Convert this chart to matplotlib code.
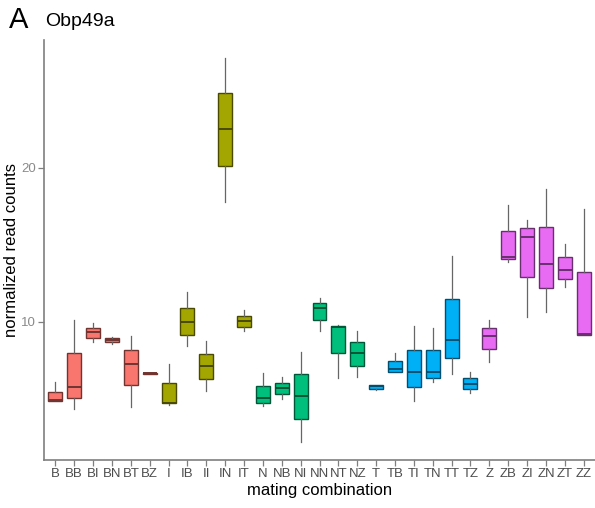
import numpy as np
import matplotlib
matplotlib.use("Agg")
import matplotlib.pyplot as plt
import matplotlib.colors as mcolors

plt.rcParams['font.family'] = ['Liberation Sans', 'DejaVu Sans']

# mating combinations, in axis order
combos = ['B', 'BB', 'BI', 'BN', 'BT', 'BZ', 'I', 'IB', 'II', 'IN', 'IT',
          'N', 'NB', 'NI', 'NN', 'NT', 'NZ', 'T', 'TB', 'TI', 'TN', 'TT', 'TZ',
          'Z', 'ZB', 'ZI', 'ZN', 'ZT', 'ZZ']
# female group of each combination (sets the fill colour)
groups = [c[0] for c in combos]

# box statistics
whislo = [4.85, 4.35, 8.72, 8.57, 4.48, 6.62, 4.61, 8.44, 5.52, 17.81, 9.42,
          4.55, 4.98, 2.23, 9.42, 6.34, 6.41, 5.58, 6.73, 4.87, 6.08, 6.62, 5.37,
          7.42, 13.92, 10.34, 10.67, 12.29, 9.16]
q1 = [4.89, 5.05, 8.98, 8.68, 5.89, 6.64, 4.72, 9.18, 6.32, 20.15, 9.69,
      4.76, 5.31, 3.68, 10.15, 8.01, 7.14, 5.67, 6.73, 5.76, 6.38, 7.66, 5.67,
      8.23, 14.07, 12.92, 12.23, 12.77, 9.16]
med = [4.91, 5.78, 9.33, 8.83, 7.29, 6.67, 4.76, 10.0, 7.16, 22.51, 10.06,
       5.06, 5.69, 5.18, 10.93, 9.69, 7.99, 5.82, 6.95, 6.73, 6.77, 8.81, 5.99,
       9.07, 14.22, 15.54, 13.75, 13.38, 9.2]
q3 = [5.47, 7.97, 9.61, 8.94, 8.18, 6.70, 6.02, 10.93, 7.94, 24.85, 10.41,
      5.86, 6.02, 6.62, 11.25, 9.76, 8.70, 5.91, 7.49, 8.18, 8.18, 11.49, 6.36,
      9.59, 15.91, 16.08, 16.19, 14.2, 13.25]
whishi = [6.1, 10.13, 9.92, 9.05, 9.09, 6.72, 7.25, 11.93, 8.77, 27.12, 10.78,
          6.67, 6.41, 8.07, 11.54, 9.8, 9.42, 5.9, 7.97, 9.74, 9.63, 14.29, 6.77,
          10.13, 17.6, 16.6, 18.64, 15.06, 17.34]

palette = {'B': '#F8766D', 'I': '#A3A500', 'N': '#00BF7D',
           'T': '#00B0F6', 'Z': '#E76BF3'}

stats = []
for i, c in enumerate(combos):
    stats.append(dict(label=c, whislo=whislo[i], q1=q1[i], med=med[i],
                      q3=q3[i], whishi=whishi[i], fliers=[]))

fig = plt.figure(figsize=(5.95, 5.08), dpi=100)
ax = fig.add_axes([0.074, 0.0945, 0.926, 0.8265])

pos = np.arange(1, len(combos) + 1)
bp = ax.bxp(stats, positions=pos, widths=0.74, patch_artist=True,
            showcaps=False, showfliers=False)

for i, g in enumerate(groups):
    fill = mcolors.to_rgb(palette[g])
    dark = tuple(v * 0.45 for v in fill)
    bp['boxes'][i].set_facecolor(fill)
    bp['boxes'][i].set_edgecolor(dark)
    bp['boxes'][i].set_linewidth(1.0)
    bp['medians'][i].set_color(dark)
    bp['medians'][i].set_linewidth(1.4)
    for w in bp['whiskers'][2 * i:2 * i + 2]:
        w.set_color('#666666')
        w.set_linewidth(0.9)

ax.set_xlim(0.4, len(combos) + 0.6)
ax.set_ylim(1.04, 28.3)
ax.set_yticks([10, 20])
ax.set_xticks(pos)
ax.set_xticklabels(combos, fontsize=9.5)
ax.set_yticklabels(['10', '20'], fontsize=9.5)

for s in ['top', 'right']:
    ax.spines[s].set_visible(False)
for s in ['left', 'bottom']:
    ax.spines[s].set_color('#7f7f7f')
    ax.spines[s].set_linewidth(1.2)
ax.tick_params(colors='#7f7f7f', length=4, width=0.9,
               labelcolor='#4d4d4d', pad=2)
ax.tick_params(axis='y', labelcolor='#8a8a8a')

ax.set_xlabel('mating combination', fontsize=12, labelpad=2)
ax.set_ylabel('normalized read counts', fontsize=12)
ax.yaxis.set_label_coords(-0.045, 0.5)

fig.text(0.015, 0.945, 'A', fontsize=21, va='baseline')
fig.text(0.075, 0.948, 'Obp49a', fontsize=14, va='baseline')

fig.savefig('out.png', dpi=100)
